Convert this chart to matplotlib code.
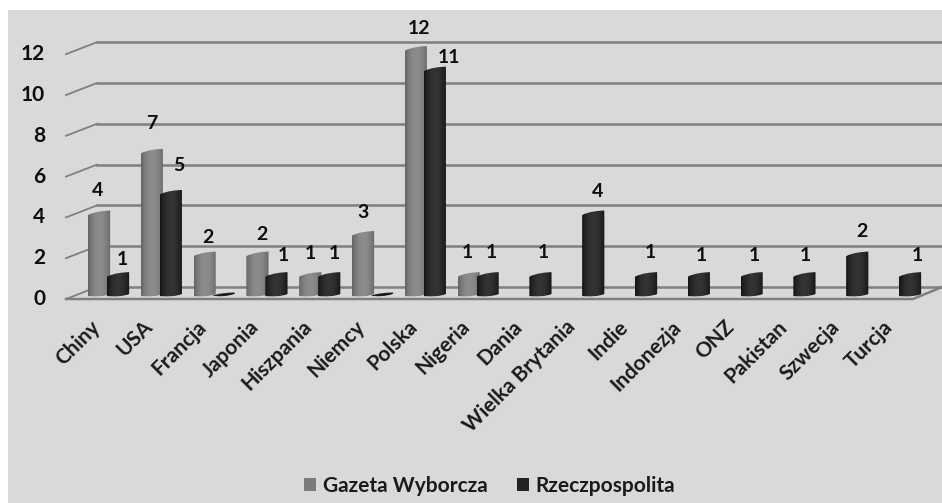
import matplotlib
matplotlib.use("Agg")
import matplotlib.pyplot as plt
import numpy as np
from matplotlib.patches import PathPatch, Patch
from matplotlib.path import Path

plt.rcParams['font.family'] = ['Lato', 'DejaVu Sans']

kraje = ["Chiny", "USA", "Francja", "Japonia", "Hiszpania", "Niemcy", "Polska", "Nigeria",
         "Dania", "Wielka Brytania", "Indie", "Indonezja", "ONZ", "Pakistan", "Szwecja", "Turcja"]
gazeta = [4, 7, 2, 2, 1, 3, 12, 1, None, None, None, None, None, None, None, None]
rzecz = [1, 5, 0, 1, 1, 0, 11, 1, 1, 4, 1, 1, 1, 1, 2, 1]
y_ticks = [0, 2, 4, 6, 8, 10, 12]

# label shifts in points, the original puts them rather unevenly
gazeta_shift = [(-1, 16), (0, 20), (2, 12), (3, 14), (0, 15), (0, 15), (2, 14), (-1, 16)]
rzecz_shift = [(3, 11), (6, 19), None, (5, 14), (4, 15), None, (10, 8), (3, 16),
               (2, 16), (3, 15), (3, 16), (2, 14), (2, 14), (1, 14), (3, 16), (5, 14)]

X0, XSTEP = 108.0, 52.8     # px of category 0, px per category
Y0, YSTEP = 295.0, 20.55    # px of value 0, px per value
GRID = 20.4 / 20.55         # the walls are a little tighter than the bars

fig = plt.figure(figsize=(9.42, 5.03), dpi=100, facecolor="white")
ax = fig.add_axes([8 / 942, 0, 934 / 942, 493 / 503], facecolor="#d9d9d9")
ax.set_axis_off()
fig.patches.append(plt.Rectangle((8 / 942, 0), 934 / 942, 493 / 503, transform=fig.transFigure,
                                 facecolor="#d9d9d9", zorder=-5))
xlim = ((8 - X0) / XSTEP, (942 - X0) / XSTEP)
ylim = ((Y0 - 503) / YSTEP, (Y0 - 10) / YSTEP)

x_front, x_back = (66 - X0) / XSTEP, (97 - X0) / XSTEP
lift_front, lift_back = -4 / YSTEP, 8 / YSTEP
x_right_front = (913 - X0) / XSTEP
line_col = "#7f7f7f"
text_col = "#0d0d0d"

# walls and floor
for v in y_ticks:
    ax.plot([x_front, x_back], [v * GRID + lift_front, v * GRID + lift_back], color=line_col, lw=1.3, zorder=1)
    ax.plot([x_back, xlim[1]], [v * GRID + lift_back, v * GRID + lift_back], color=line_col, lw=1.8, zorder=1)
    ax.text(-1.19, v * GRID + lift_front, str(v), ha="right", va="center", fontsize=15, fontweight="bold", color=text_col)
ax.plot([x_front, x_right_front, xlim[1]], [lift_front, lift_front, lift_back], color=line_col, lw=1.8, zorder=1)


def cylinder(left, right, value, c_edge, c_mid, z):
    tilt = 0.11
    w = right - left
    verts = [(left, value - tilt), (left + w * 0.3, value + tilt * 0.6), (right - w * 0.2, value + tilt),
             (right, value + tilt), (right, 0.05), (right - w * 0.25, -0.08), (left + w * 0.3, -0.08),
             (left, -0.05), (left, value - tilt)]
    codes = [Path.MOVETO, Path.CURVE4, Path.CURVE4, Path.CURVE4, Path.LINETO,
             Path.CURVE4, Path.CURVE4, Path.CURVE4, Path.CLOSEPOLY]
    clip = PathPatch(Path(verts, codes), facecolor="none", edgecolor="none", transform=ax.transData)
    ax.add_patch(clip)
    t = np.abs(np.linspace(-1, 1, 40))
    shade = (1 - t ** 2)[None, :]
    im = ax.imshow(shade, extent=(left, right, -0.2, value + 0.3), aspect="auto", origin="lower",
                   cmap=matplotlib.colors.LinearSegmentedColormap.from_list("c", [c_edge, c_mid]),
                   vmin=0, vmax=1, zorder=z, interpolation="bilinear")
    im.set_clip_path(clip)


def flat(left, right, col, z):
    w = right - left
    verts = [(left, -0.03), (left + w * 0.4, 0.12), (right, 0.12), (right, 0.06),
             (right - w * 0.3, -0.08), (left + w * 0.2, -0.08), (left, -0.03), (left, -0.03)]
    codes = [Path.MOVETO, Path.CURVE3, Path.CURVE3, Path.LINETO, Path.CURVE4, Path.CURVE4, Path.CURVE4, Path.CLOSEPOLY]
    ax.add_patch(PathPatch(Path(verts, codes), facecolor=col, edgecolor="none", zorder=z))


for i, (g, r) in enumerate(zip(gazeta, rzecz)):
    if g is not None:
        cylinder(i - 0.38, i + 0.04, g, "#666666", "#8c8c8c", 3)
        ax.annotate(str(g), (i - 0.17, g), xytext=gazeta_shift[i], textcoords="offset points",
                    ha="center", va="center", fontsize=14, fontweight="bold", color=text_col, zorder=6)
    if r == 0:
        flat(i - 0.02, i + 0.40, "#1c1c1c", 4)
    else:
        cylinder(i - 0.02, i + 0.40, r, "#141414", "#333333", 4)
        ax.annotate(str(r), (i + 0.19, r), xytext=rzecz_shift[i], textcoords="offset points",
                    ha="center", va="center", fontsize=14, fontweight="bold", color=text_col, zorder=6)

for i, name in enumerate(kraje):
    ax.text(i - 0.34, -1.05, name, rotation=45, rotation_mode="anchor", ha="right", va="top",
            fontsize=15, fontweight="bold", color="#1a1a1a")

ax.set_xlim(xlim)
ax.set_ylim(ylim)

ax.legend(handles=[Patch(facecolor="#7a7a7a", label="Gazeta Wyborcza"), Patch(facecolor="#222222", label="Rzeczpospolita")],
          ncol=2, loc="center", bbox_to_anchor=(489.5 / 942, 17 / 503), bbox_transform=fig.transFigure,
          frameon=False, prop={"size": 15, "weight": "bold"}, handlelength=0.6, handleheight=0.6,
          handletextpad=0.3, columnspacing=1.4, labelcolor="#1a1a1a")

fig.savefig("out.png", dpi=100, facecolor="white")
